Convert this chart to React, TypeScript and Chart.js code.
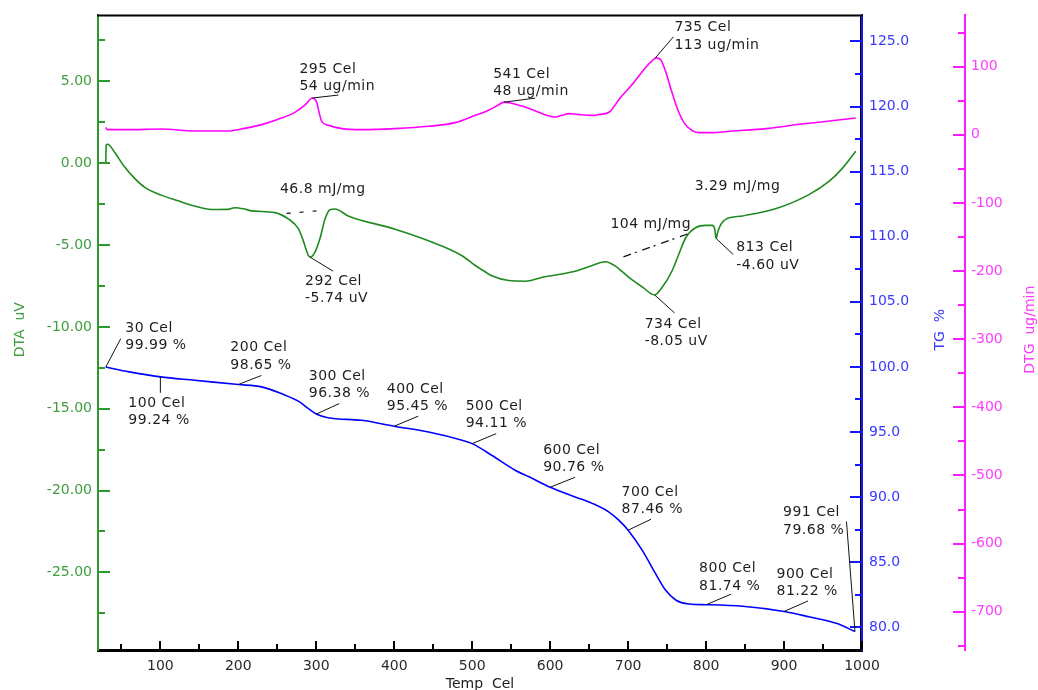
import React, { useEffect, useRef } from "react";
import { Chart, registerables } from "chart.js";

Chart.register(...registerables);

// ---------------- data ----------------
// DTG (ug/min) vs temperature (Cel)
const dtgCurve: [number, number][] = [
  [30, 11], [32, 7.6], [58, 7.6], [101, 8.5], [144, 5.6], [187, 5.6], [208, 9.5], [230, 15],
  [251, 22.7], [273, 33.4], [286, 44.3], [295, 54], [300.5, 48], [303.5, 33.4], [307, 19.8],
  [315.5, 13.9], [333, 9.1], [358, 7.6], [401, 9.1], [444, 12.5], [478, 17.9], [504, 28.6],
  [521, 36], [533, 43.5], [541, 48], [549, 46.8], [568, 40.8], [590, 31.1], [607, 26.1],
  [615, 28.6], [624, 31.1], [635, 30], [654, 28.6], [664, 30], [676, 33.5], [689, 53],
  [706, 75], [723, 99.5], [731, 109], [736, 113], [742.5, 109], [749, 90], [755.5, 65],
  [764, 36], [772.5, 16.4], [783, 5.6], [792, 3.2], [804, 3.2], [834, 5.6], [877, 9.1],
  [920, 15.5], [967, 21.3], [992, 24.6],
];

// DTA (uV) vs temperature (Cel)
const dtaCurve: [number, number][] = [
  [30, 0], [30.5, 1.1], [32.5, 1.16], [41, 0.69], [54, -0.22], [67, -0.93], [80, -1.48],
  [101, -1.95], [123, -2.3], [144, -2.62], [165, -2.83], [187, -2.82], [195, -2.72],
  [208, -2.8], [217, -2.91], [247, -3.02], [264, -3.4], [277, -4.0], [283, -4.7],
  [289.5, -5.6], [292, -5.74], [298, -5.47], [305, -4.56], [311, -3.44], [317.5, -2.84],
  [324, -2.8], [341, -3.22], [401, -4.03], [444, -4.74], [487, -5.65], [504, -6.25],
  [517, -6.65], [525, -6.87], [547, -7.17], [568, -7.21], [590, -6.97], [632, -6.6],
  [654, -6.25], [671, -6.02], [684, -6.3], [701, -6.97], [718, -7.55], [734, -8.05],
  [743.5, -7.59], [756.5, -6.57], [765, -5.56], [774, -4.54], [787, -3.93], [799.5, -3.8],
  [808, -3.8], [811, -4.0], [813, -4.6], [815, -4.2], [819, -3.74], [825, -3.43],
  [847, -3.22], [890, -2.77], [932, -1.92], [958, -1.1], [975, -0.3], [992, 0.73],
];

// TG (%) vs temperature (Cel)
const tgCurve: [number, number][] = [
  [30, 99.99], [60, 99.62], [100, 99.24], [144, 98.98], [200, 98.65], [230, 98.47], [255, 97.96],
  [277, 97.37], [290, 96.8], [300, 96.38], [315, 96.1], [358, 95.9], [400, 95.45], [444, 95.0],
  [487, 94.37], [500, 94.11], [525, 93.22], [555, 92.07], [573, 91.56], [600, 90.76],
  [632, 90.02], [654, 89.52], [675, 88.87], [688, 88.23], [700, 87.46], [718, 85.93],
  [735, 84.14], [748, 82.86], [761, 82.1], [778, 81.79], [800, 81.74], [847, 81.62],
  [900, 81.22], [932, 80.81], [967, 80.31], [991, 79.68],
];

// axis ranges and tick labels
const tempRange = [20, 1000];
const dtaRange = [-29.74, 9.03];
const tgRange = [78.26, 127.0];
const dtgRange = [-756.2, 175.3];
const tempTicks = [100, 200, 300, 400, 500, 600, 700, 800, 900, 1000];
const dtaTicks = [5, 0, -5, -10, -15, -20, -25];
const tgTicks = [125, 120, 115, 110, 105, 100, 95, 90, 85, 80];
const dtgTicks = [100, 0, -100, -200, -300, -400, -500, -600, -700];

// peak / point annotations
const peakTemps = [295, 541, 735, 292, 734, 813, 30, 100, 200, 300, 400, 500, 600, 700, 800, 900, 991];
const peakValues = [54, 48, 113, -5.74, -8.05, -4.6, 99.99, 99.24, 98.65, 96.38, 95.45, 94.11, 90.76, 87.46, 81.74, 81.22, 79.68];
const peakSeries = ["dtg", "dtg", "dtg", "dta", "dta", "dta", "tg", "tg", "tg", "tg", "tg", "tg", "tg", "tg", "tg", "tg", "tg"];
const peakLabels = [
  ["295 Cel", "54 ug/min"], ["541 Cel", "48 ug/min"], ["735 Cel", "113 ug/min"],
  ["292 Cel", "-5.74 uV"], ["734 Cel", "-8.05 uV"], ["813 Cel", "-4.60 uV"],
  ["30 Cel", "99.99 %"], ["100 Cel", "99.24 %"], ["200 Cel", "98.65 %"], ["300 Cel", "96.38 %"],
  ["400 Cel", "95.45 %"], ["500 Cel", "94.11 %"], ["600 Cel", "90.76 %"], ["700 Cel", "87.46 %"],
  ["800 Cel", "81.74 %"], ["900 Cel", "81.22 %"], ["991 Cel", "79.68 %"],
];

// peak area (enthalpy) labels with their baselines
const heatLabels = ["46.8 mJ/mg", "104 mJ/mg", "3.29 mJ/mg"];
const heatStartTemps = [262, 694, 813];
const heatStartValues = [-3.07, -5.72, -4.6];
const heatEndTemps = [311, 778, NaN];
const heatEndValues = [-2.87, -4.29, NaN];

// ---------------- layout / style (pixels) ----------------
// [leaderDx, leaderDy, textDx, firstLineDy]
const peakLayout = [
  [26, -3, -13, -29], [31, -4, -11, -28], [18, -21, 19, -30],
  [23, 14, -5, 24], [20, 18, -10, 29], [17, 16, 20, 9],
  [15, -28.5, 19.5, -39], [0, 16, -32, 26.5], [23, -9, -8, -37], [23, -10.5, -7.5, -38],
  [24, -10, -7.5, -37], [24, -10, -6.5, -37.5], [25, -10, -7, -37], [23, -11, -6.5, -38],
  [25, -10.5, -7, -36], [24, -10.5, -7.5, -37.5], [-8.5, -110, -72, -119],
];
const heatLayout = [[-6.7, -24], [-13, -32], [-21.5, -52]];
const heatDash = [[4, 9], [8, 4, 2, 6], []];

const FONT_FAMILY = '"DejaVu Sans", Verdana, sans-serif';
const C = {
  dta: "#1f8a1f",
  dtaAxis: "#2e9a2e",
  dtaText: "#3d9f3d",
  tg: "#0000ff",
  tgAxis: "#1515ff",
  tgText: "#3a3aff",
  dtg: "#ff00ff",
  dtgAxis: "#ff1aff",
  dtgText: "#ff3cff",
  text: "#1e1e1e",
};

function minorTicks(major: number[], min: number, max: number): number[] {
  const s = [...major].sort((a, b) => a - b);
  const step = s[1] - s[0];
  const out: number[] = [];
  for (let v = s[0] - step / 2; v <= max + 1e-9; v += step) if (v >= min - 1e-9) out.push(v);
  return out;
}

const toXY = (arr: [number, number][]) => arr.map(([x, y]) => ({ x, y }));

const decorPlugin = {
  id: "decor",
  afterDraw(chart: any) {
    const ctx: CanvasRenderingContext2D = chart.ctx;
    const ca = chart.chartArea;
    const sx = chart.scales.x;
    const sDTA = chart.scales.yDTA;
    const sTG = chart.scales.yTG;
    const sDTG = chart.scales.yDTG;
    const seg = (x1: number, y1: number, x2: number, y2: number) => {
      ctx.beginPath();
      ctx.moveTo(x1, y1);
      ctx.lineTo(x2, y2);
      ctx.stroke();
    };
    ctx.save();
    // frame top and inner black line by TG axis
    ctx.strokeStyle = "#000";
    ctx.lineWidth = 2;
    seg(ca.left - 1, ca.top, ca.right + 1, ca.top);
    ctx.lineWidth = 1;
    seg(ca.right - 1.5, ca.top, ca.right - 1.5, ca.bottom);

    // inner tick marks
    ctx.lineWidth = 2;
    const vTicks = (scale: any, majors: number[], range: number[], x0: number, dir: number, color: string) => {
      ctx.strokeStyle = color;
      for (const v of majors) {
        const p = Math.round(scale.getPixelForValue(v));
        seg(x0, p, x0 + dir * 12, p);
      }
      for (const v of minorTicks(majors, range[0], range[1])) {
        const p = Math.round(scale.getPixelForValue(v));
        seg(x0, p, x0 + dir * 7, p);
      }
    };
    vTicks(sDTA, dtaTicks, dtaRange, sDTA.right, 1, C.dtaAxis);
    vTicks(sTG, tgTicks, tgRange, sTG.left, -1, C.tgAxis);
    vTicks(sDTG, dtgTicks, dtgRange, sDTG.left, -1, C.dtgAxis);
    ctx.strokeStyle = "#000";
    for (const v of tempTicks) {
      const p = Math.round(sx.getPixelForValue(v));
      seg(p, ca.bottom, p, ca.bottom - 9);
    }
    for (const v of minorTicks(tempTicks, tempRange[0], tempRange[1])) {
      const p = Math.round(sx.getPixelForValue(v));
      seg(p, ca.bottom, p, ca.bottom - 6);
    }

    // axis titles
    ctx.font = `14px ${FONT_FAMILY}`;
    ctx.textAlign = "center";
    ctx.textBaseline = "middle";
    const midY = (ca.top + ca.bottom) / 2 - 3;
    const vTitle = (text: string, x: number, color: string) => {
      ctx.save();
      ctx.translate(x, midY);
      ctx.rotate(-Math.PI / 2);
      ctx.fillStyle = color;
      ctx.fillText(text, 0, 0);
      ctx.restore();
    };
    vTitle("DTA  uV", sDTA.left + 20, C.dtaText);
    vTitle("TG  %", sTG.left + 78, C.tgText);
    vTitle("DTG  ug/min", sDTG.left + 65, C.dtgText);
    ctx.fillStyle = C.text;
    ctx.textBaseline = "alphabetic";
    ctx.fillText("Temp  Cel", (ca.left + ca.right) / 2, sx.bottom - 2);

    // annotations
    const scaleFor: Record<string, any> = { dta: sDTA, tg: sTG, dtg: sDTG };
    ctx.font = `14px ${FONT_FAMILY}`;
    (ctx as any).letterSpacing = "0.5px";
    ctx.textAlign = "left";
    ctx.textBaseline = "middle";
    ctx.lineWidth = 1;
    ctx.strokeStyle = "#111";
    ctx.fillStyle = C.text;
    peakTemps.forEach((t, i) => {
      const px = sx.getPixelForValue(t);
      const py = scaleFor[peakSeries[i]].getPixelForValue(peakValues[i]);
      const [ldx, ldy, tdx, tdy] = peakLayout[i];
      seg(px, py, px + ldx, py + ldy);
      ctx.fillText(peakLabels[i][0], px + tdx, py + tdy);
      ctx.fillText(peakLabels[i][1], px + tdx, py + tdy + 17.5);
    });
    heatLabels.forEach((label, i) => {
      const px = sx.getPixelForValue(heatStartTemps[i]);
      const py = sDTA.getPixelForValue(heatStartValues[i]);
      if (!isNaN(heatEndTemps[i])) {
        const ex = sx.getPixelForValue(heatEndTemps[i]);
        const ey = sDTA.getPixelForValue(heatEndValues[i]);
        ctx.save();
        ctx.setLineDash(heatDash[i]);
        ctx.lineWidth = 1.2;
        seg(px, py, ex, ey);
        ctx.restore();
      }
      ctx.fillText(label, px + heatLayout[i][0], py + heatLayout[i][1]);
    });
    ctx.restore();
  },
};

export default function App() {
  const canvasRef = useRef<HTMLCanvasElement | null>(null);

  useEffect(() => {
    const canvas = canvasRef.current;
    if (!canvas) return;
    Chart.defaults.font.family = FONT_FAMILY;
    const tickFont = { family: FONT_FAMILY, size: 14 };
    const vGrid = { display: false, drawOnChartArea: false, drawTicks: false, tickLength: 0 };
    const chart = new Chart(canvas, {
      type: "line",
      data: {
        datasets: [
          { label: "DTG", data: toXY(dtgCurve), yAxisID: "yDTG", borderColor: C.dtg, borderWidth: 1.6 },
          { label: "DTA", data: toXY(dtaCurve), yAxisID: "yDTA", borderColor: C.dta, borderWidth: 1.6 },
          { label: "TG", data: toXY(tgCurve), yAxisID: "yTG", borderColor: C.tg, borderWidth: 1.6 },
        ],
      },
      options: {
        animation: false,
        responsive: false,
        devicePixelRatio: 1,
        parsing: true,
        layout: { padding: { top: 15, left: 0, right: 0, bottom: 0 } },
        elements: {
          point: { radius: 0, hoverRadius: 0 },
          line: { cubicInterpolationMode: "monotone", fill: false },
        },
        plugins: { legend: { display: false }, tooltip: { enabled: false } },
        scales: {
          x: {
            type: "linear",
            position: "bottom",
            min: tempRange[0],
            max: tempRange[1],
            afterFit: (s: any) => { s.height = 40; },
            afterBuildTicks: (s: any) => { s.ticks = tempTicks.map((v) => ({ value: v })); },
            grid: vGrid,
            border: { display: true, color: "#000", width: 3 },
            ticks: { padding: 8, color: "#2a2a2a", font: tickFont, maxRotation: 0, autoSkip: false, callback: (v: any) => String(v) },
          },
          yDTA: {
            type: "linear",
            position: "left",
            min: dtaRange[0],
            max: dtaRange[1],
            afterFit: (s: any) => { s.width = 98; },
            afterBuildTicks: (s: any) => { s.ticks = dtaTicks.map((v) => ({ value: v })); },
            grid: vGrid,
            border: { display: true, color: C.dtaAxis, width: 2 },
            ticks: { padding: 6, color: C.dtaText, font: tickFont, autoSkip: false, callback: (v: any) => Number(v).toFixed(2) },
          },
          yTG: {
            type: "linear",
            position: "right",
            weight: 0,
            min: tgRange[0],
            max: tgRange[1],
            afterFit: (s: any) => { s.width = 103; },
            afterBuildTicks: (s: any) => { s.ticks = tgTicks.map((v) => ({ value: v })); },
            grid: vGrid,
            border: { display: true, color: C.tgAxis, width: 2 },
            ticks: { padding: 7, color: C.tgText, font: tickFont, autoSkip: false, callback: (v: any) => Number(v).toFixed(1) },
          },
          yDTG: {
            type: "linear",
            position: "right",
            weight: 2,
            min: dtgRange[0],
            max: dtgRange[1],
            afterFit: (s: any) => { s.width = 73; },
            afterBuildTicks: (s: any) => { s.ticks = dtgTicks.map((v) => ({ value: v })); },
            grid: vGrid,
            border: { display: true, color: C.dtgAxis, width: 2 },
            ticks: { padding: 6, color: C.dtgText, font: tickFont, autoSkip: false, callback: (v: any) => String(Math.round(Number(v))) },
          },
        },
      },
      plugins: [decorPlugin],
    } as any);
    return () => chart.destroy();
  }, []);

  return (
    <div style={{ position: "fixed", left: 0, top: 0, width: 1038, height: 690, background: "#fff" }}>
      <canvas ref={canvasRef} width={1038} height={690} style={{ display: "block", width: 1038, height: 690 }} />
    </div>
  );
}
